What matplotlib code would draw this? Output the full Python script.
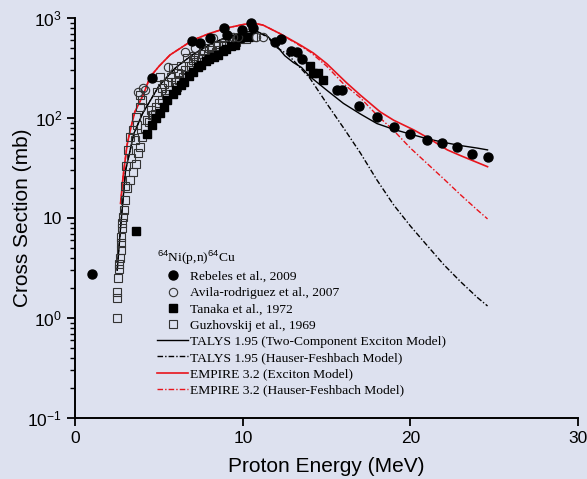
import numpy as np
import matplotlib
matplotlib.use("Agg")
from matplotlib import pyplot as plt
from matplotlib.ticker import FixedLocator, FixedFormatter, LogLocator, NullFormatter

BG_COLOR = "#dde1ef"

# Rebeles et al., 2009
rebeles_e = [1.0, 4.6, 6.95, 7.45, 8.05, 8.9, 9.05, 9.95, 10.5, 10.6, 11.9,
             12.3, 12.9, 13.2, 13.5, 15.6, 15.9, 16.9, 18.0, 19.0, 20.0,
             21.0, 21.9, 22.8, 23.7, 24.6]
rebeles_xs = [2.75, 250, 590, 560, 630, 795, 676, 760, 890, 795, 575,
              617, 470, 460, 390, 190, 190, 132, 102, 81, 69,
              60, 56, 51, 44, 41]

# Avila-rodriguez et al., 2007
avila_e = [3.75, 4.05, 4.17, 5.55, 6.55, 7.15, 8.2, 9.4, 9.7, 10.8, 11.2]
avila_xs = [180, 200, 190, 324, 457, 500, 630, 645, 645, 645, 650]

# Tanaka et al., 1972
tanaka_e = [3.6, 4.3, 4.6, 4.8, 5.05, 5.3, 5.5, 5.8, 6.0, 6.3, 6.5, 6.8,
            7.0, 7.3, 7.5, 7.8, 8.0, 8.3, 8.5, 8.8, 9.0, 9.3, 9.5,
            9.75, 10.3, 14.0, 14.2, 14.5, 14.8]
tanaka_xs = [7.5, 70, 85, 100, 112, 130, 150, 175, 190, 215, 230, 265,
             290, 320, 340, 370, 390, 410, 430, 470, 490, 520, 540,
             630, 650, 330, 280, 280, 240]

# Guzhovskij et al., 1969
guzh_e = [2.5, 2.5, 2.5, 2.55, 2.6, 2.6, 2.65, 2.7, 2.7, 2.75, 2.8, 2.8,
          2.85, 2.9, 2.95, 2.97, 3.1, 3.25, 3.45, 3.65, 3.75, 3.85, 3.95,
          4.15, 4.4, 4.55, 3.15, 3.25, 3.45, 3.65, 3.85, 3.85, 4.0, 4.65,
          4.8, 4.9, 5.05, 5.2, 5.3, 5.45, 5.6, 5.7, 5.85, 6.05, 6.2, 6.3,
          6.65, 6.65, 6.8, 7.0, 7.2, 7.45, 7.6, 7.8, 8.0, 8.2, 8.4, 8.65,
          8.8, 9.0, 9.4, 9.6, 10.0, 10.2, 10.6,
          3.05, 3.35, 3.55, 3.7, 4.25, 4.5, 4.75, 5.0, 5.15, 5.4, 5.55,
          5.95, 6.1, 6.4, 6.55, 6.9, 7.1, 7.35, 7.7, 7.9, 8.1, 8.5,
          8.9, 9.2, 9.8]
guzh_xs = [1.0, 1.6, 1.8, 2.5, 3.1, 3.5, 4.0, 4.8, 5.6, 6.5, 8.0, 9.0,
           10.2, 12, 15, 21, 20, 24, 29, 35, 45, 51, 65,
           80, 91, 107, 48, 65, 76, 102, 129, 170, 150, 107,
           130, 180, 257, 150, 220, 158, 190, 260, 316, 204, 240, 330,
           400, 269, 300, 380, 360, 339, 440, 400, 500, 427, 460, 479,
           537, 520, 600, 570, 645, 620, 645,
           33, 40, 60, 85, 95, 120, 110, 140, 200, 175, 230,
           230, 280, 260, 300, 330, 420, 400, 470, 440, 480, 520,
           560, 590, 610]

# TALYS 1.95, two-component exciton model
talys_e = [2.5, 2.7, 3.0, 3.5, 4.0, 5.0, 6.0, 7.0, 8.0, 9.0, 10.0, 10.8,
           11.5, 12.0, 12.5, 13.0, 13.5, 14.0, 15.0, 16.0, 17.0, 18.0,
           19.0, 20.0, 21.0, 22.0, 23.0, 24.0, 24.6]
talys_xs = [3, 8, 30, 70, 110, 210, 320, 430, 540, 640, 720, 740,
            650, 530, 420, 360, 320, 260, 190, 140, 110, 88,
            77, 69, 62, 57, 53, 50, 48]

# TALYS 1.95, Hauser-Feshbach model
talys_hf_e = [2.5, 2.7, 3.0, 3.5, 4.0, 5.0, 6.0, 7.0, 8.0, 9.0, 10.0, 10.8,
              11.5, 12.0, 12.6, 13.0, 14.0, 15.0, 16.0, 17.0, 18.0, 19.0,
              20.0, 21.0, 22.0, 23.0, 24.0, 24.6]
talys_hf_xs = [3, 8, 30, 70, 110, 210, 320, 430, 540, 640, 720, 740,
               640, 510, 440, 380, 250, 140, 80, 45, 24, 13.5,
               8.3, 5.3, 3.4, 2.3, 1.6, 1.32]

# EMPIRE 3.2, exciton model
empire_e = [2.7, 2.85, 3.09, 3.25, 3.55, 4.05, 4.46, 5.0, 5.65, 7.0, 8.0,
            9.05, 10.0, 10.6, 11.2, 12.2, 13.4, 14.2, 15.0, 16.2, 17.0,
            18.2, 19.0, 20.2, 21.0, 22.2, 23.0, 24.6]
empire_xs = [14, 26, 54, 72, 115, 170, 257, 330, 427, 600, 700,
             795, 860, 890, 850, 700, 540, 447, 350, 224, 170,
             115, 95, 76, 64, 48, 42, 32.6]

# EMPIRE 3.2, Hauser-Feshbach model
empire_hf_e = [2.7, 2.85, 3.09, 3.25, 3.55, 4.05, 4.46, 5.0, 5.65, 7.0, 8.0,
               9.05, 10.0, 10.6, 11.2, 12.2, 13.4, 14.0, 15.0, 16.0, 17.0,
               18.0, 19.0, 20.0, 21.0, 22.0, 23.0, 24.0, 24.6]
empire_hf_xs = [14, 26, 54, 72, 115, 170, 257, 330, 427, 600, 700,
                795, 860, 890, 850, 700, 530, 460, 330, 220, 160,
                107, 75, 50, 35, 24.5, 17, 12, 9.8]

y_ticks = [0.1, 1, 10, 100, 1000]
y_tick_labels = [r"$10^{-1}$", r"$10^{0}$", "10", r"$10^{2}$", r"$10^{3}$"]
x_ticks = [0, 10, 20, 30]


def main():
    plt.rcParams["font.family"] = ["Liberation Sans", "DejaVu Sans"]
    plt.rcParams["mathtext.fontset"] = "custom"
    plt.rcParams["mathtext.rm"] = "Liberation Sans"
    plt.rcParams["mathtext.it"] = "Liberation Sans"

    fig = plt.figure(figsize=(5.87, 4.79), dpi=100, facecolor=BG_COLOR)
    ax = fig.add_axes([0.1283, 0.1273, 0.8564, 0.8351])
    ax.set_facecolor(BG_COLOR)

    hf_dash = (0, (4, 1.5, 1, 1.5))

    ax.plot(talys_e, talys_xs, color="black", lw=1.0,
            label="TALYS 1.95 (Two-Component Exciton Model)", zorder=2)
    ax.plot(talys_hf_e, talys_hf_xs, color="black", lw=1.0, linestyle=hf_dash,
            label="TALYS 1.95 (Hauser-Feshbach Model)", zorder=2)
    ax.plot(empire_e, empire_xs, color="#e8141c", lw=1.2,
            label="EMPIRE 3.2 (Exciton Model)", zorder=2)
    ax.plot(empire_hf_e, empire_hf_xs, color="#e8141c", lw=1.0, linestyle=hf_dash,
            label="EMPIRE 3.2 (Hauser-Feshbach Model)", zorder=2)

    ax.plot(guzh_e, guzh_xs, linestyle="none", marker="s", ms=5.5,
            mfc="none", mec="#333333", mew=0.8,
            label="Guzhovskij et al., 1969", zorder=3)
    ax.plot(tanaka_e, tanaka_xs, linestyle="none", marker="s", ms=5.5,
            mfc="black", mec="black",
            label="Tanaka et al., 1972", zorder=4)
    ax.plot(avila_e, avila_xs, linestyle="none", marker="o", ms=6,
            mfc="none", mec="#333333", mew=0.8,
            label="Avila-rodriguez et al., 2007", zorder=4)
    ax.plot(rebeles_e, rebeles_xs, linestyle="none", marker="o", ms=6.5,
            mfc="black", mec="black",
            label="Rebeles et al., 2009", zorder=5)

    ax.set_yscale("log")
    ax.set_xlim(0, 30)
    ax.set_ylim(0.1, 1000)

    ax.xaxis.set_major_locator(FixedLocator(x_ticks))
    ax.yaxis.set_major_locator(FixedLocator(y_ticks))
    ax.yaxis.set_major_formatter(FixedFormatter(y_tick_labels))
    ax.yaxis.set_minor_locator(LogLocator(base=10, subs=np.arange(2, 10)))
    ax.yaxis.set_minor_formatter(NullFormatter())

    for side in ["top", "right"]:
        ax.spines[side].set_visible(False)
    for side in ["left", "bottom"]:
        ax.spines[side].set_linewidth(1.4)
    ax.tick_params(which="major", direction="out", length=6, width=1.3,
                   labelsize=12.5, colors="black")
    ax.tick_params(which="minor", direction="out", length=3.5, width=1.0)

    ax.set_xlabel("Proton Energy (MeV)", fontsize=15, labelpad=8)
    ax.set_ylabel("Cross Section (mb)", fontsize=15, labelpad=-3)

    # legend order follows the data first, then model curves
    handles, labels = ax.get_legend_handles_labels()
    order = [7, 6, 5, 4, 0, 1, 2, 3]
    leg = ax.legend([handles[i] for i in order], [labels[i] for i in order],
                    title=r"$^{64}$Ni(p,n)$^{64}$Cu",
                    loc="upper left", bbox_to_anchor=(0.150, 0.44),
                    frameon=False, borderpad=0, handlelength=2.3,
                    handletextpad=0.15, labelspacing=0.28,
                    alignment="left",
                    prop={"family": "Liberation Serif", "size": 9.7})
    leg.get_title().set_fontfamily("Liberation Serif")
    leg.get_title().set_fontsize(9.7)

    fig.savefig("out.png", dpi=100, facecolor=BG_COLOR)


if __name__ == "__main__":
    main()
